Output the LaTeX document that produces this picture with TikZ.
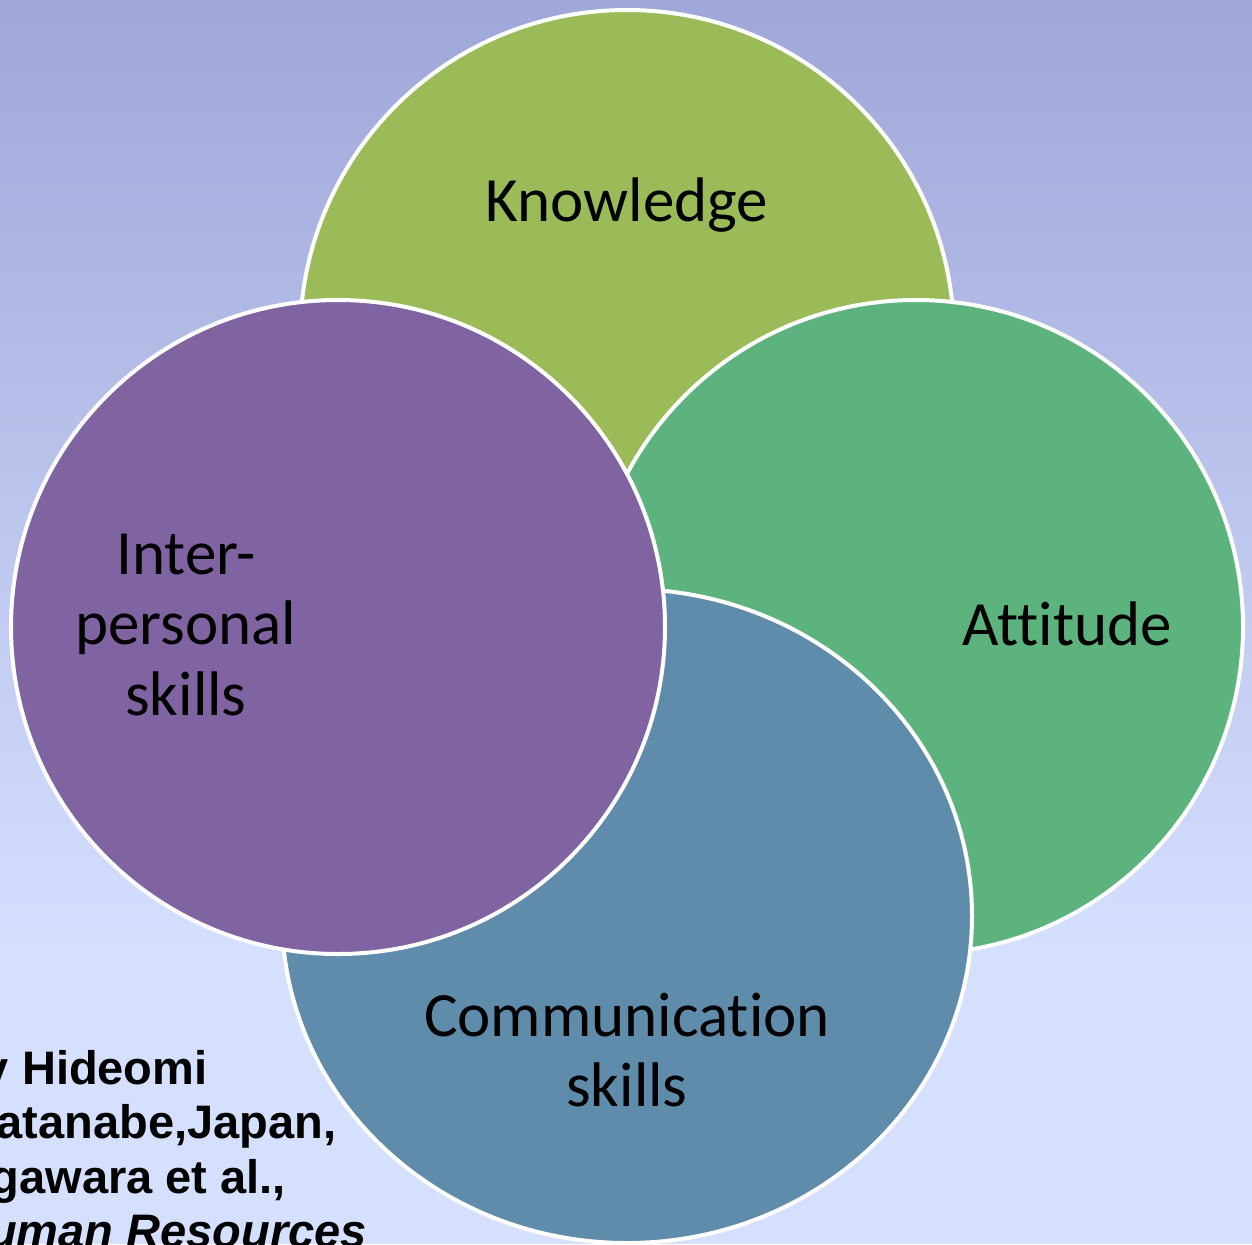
\documentclass[tikz,border=0pt]{standalone}
\usepackage{fontspec}
\usetikzlibrary{shapes.geometric}
\newfontfamily\labelfont[Ligatures=NoCommon]{Carlito}
\newfontfamily\notefont{Liberation Sans}
\definecolor{bgtop}{HTML}{9FA7D9}
\definecolor{bgbot}{HTML}{D5DFFE}
\definecolor{knowfill}{HTML}{9BBB59}
\definecolor{attfill}{HTML}{5DB37E}
\definecolor{commfill}{HTML}{5F8CAB}
\definecolor{interfill}{HTML}{8064A2}
\begin{document}
\begin{tikzpicture}[x=1pt,y=-1pt,
  petal/.style={circle, draw=white, line width=4pt, minimum size=654pt, inner sep=0pt},
  wide petal/.style={ellipse, draw=white, line width=4pt, minimum width=690pt, minimum height=654pt, inner sep=0pt},
  lbl/.style={font=\labelfont\fontsize{63}{70.5}\selectfont, inner sep=0pt, align=center, text=black},
  note/.style={font=\notefont\bfseries\fontsize{47}{54.5}\selectfont, inner sep=0pt, align=left, text=black}]
\useasboundingbox (0,0) rectangle (1252,1244);
\clip (0,0) rectangle (1252,1244);
% slide background
\fill[bgbot] (0,0) rectangle (1252,1244);
\shade[top color=bgtop, bottom color=bgbot] (0,0) rectangle (1252,950);
% source note in the lower left
\node[note, anchor=north west] (credit) at (-46,1050)
  {by Hideomi\\Watanabe,Japan,\\Ogawara et al.,\\\textit{Human Resources}};
% the four overlapping shapes, back to front
\node[petal, fill=knowfill]       (know)  at (627,337) {};
\node[petal, fill=attfill]        (att)   at (916,627) {};
\node[wide petal, fill=commfill]  (comm)  at (627,916) {};
\node[petal, fill=interfill]      (inter) at (338,627) {};
% labels
\node[lbl, anchor=base] (tknow) at (627,221) {Knowledge};
\node[lbl, anchor=base] (tatt)  at (1067,645) {Attitude};
\node[lbl] (tinter) at (186,625) {Inter-\\personal\\skills};
\node[lbl] (tcomm)  at (627,1050) {Communication\\skills};
\end{tikzpicture}
\end{document}
